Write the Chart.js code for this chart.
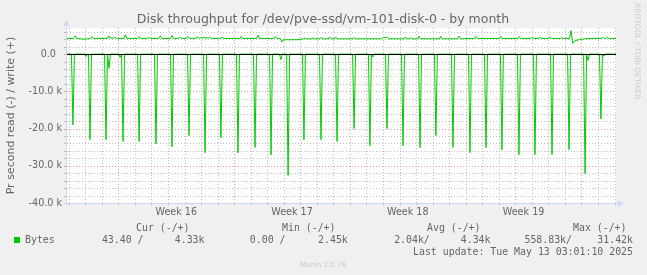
<!DOCTYPE html>
<html><head><meta charset="utf-8">
<script src="https://cdn.jsdelivr.net/npm/chart.js@4.4.1/dist/chart.umd.min.js"></script>
<style>html,body{margin:0;padding:0;background:#F0F0F0;overflow:hidden}canvas{display:block}</style>
</head><body>
<canvas id="c" width="647" height="275" style="width:647px;height:275px"></canvas>
<script>
// ---- texts ----
const chartTitle = 'Disk throughput for /dev/pve-ssd/vm-101-disk-0 - by month';
const yAxisTitle = 'Pr second read (-) / write (+)';
const signature = 'RRDTOOL / TOBI OETIKER';
const footer = 'Munin 2.0.76';

// ---- axes (x in days since start of Week 16, y in k bytes/s) ----
const xRange = [-3.11, 30.09];
const yRange = [-40, 7];
const weekTickDays = [3.5, 10.5, 17.5, 24.5];
const weekTickLabels = ['Week 16', 'Week 17', 'Week 18', 'Week 19'];
const yTickValues = [0, -10, -20, -30, -40];
const yTickLabels = ['0.0  ', '-10.0 k', '-20.0 k', '-30.0 k', '-40.0 k'];

// ---- read (-) spikes ----
const readSpikeDays = [-2.75, -1.96, -1.72, -0.75, -0.57, 0.10, 0.28, 1.25, 2.27, 3.24, 4.27, 5.24, 6.20, 7.23, 8.26, 9.23, 9.83, 10.26, 11.22, 12.25, 13.22, 14.25, 15.21, 15.39, 16.24, 17.21, 18.24, 19.20, 20.23, 21.26, 22.23, 23.19, 24.22, 25.19, 26.22, 27.25, 28.22, 28.40, 29.18, 29.36];
const readSpikeValues = [-19.0, -0.7, -23.0, -23.0, -3.8, -0.9, -23.5, -23.5, -24.1, -24.9, -21.9, -26.5, -22.5, -26.5, -25.1, -27.1, -1.5, -32.6, -23.0, -23.0, -23.5, -20.0, -24.6, -0.8, -20.0, -24.6, -25.1, -21.9, -25.1, -26.5, -25.1, -25.7, -27.0, -27.0, -27.0, -25.7, -32.1, -1.7, -17.4, -0.6];

// ---- write (+) ----
const writeDays = [-3.11, -2.70, -2.61, -2.52, -2.32, -2.02, -1.69, -1.60, -1.51, -0.68, -0.59, -0.50, -0.28, -0.19, -0.10, 0.33, 0.42, 0.51, 1.17, 1.26, 1.35, 1.74, 1.83, 1.92, 2.44, 2.53, 2.62, 3.15, 3.24, 3.33, 3.65, 3.74, 3.83, 4.12, 4.21, 4.30, 4.66, 4.75, 4.84, 5.12, 5.43, 5.52, 5.61, 6.18, 6.27, 6.36, 7.34, 7.43, 7.52, 8.35, 8.44, 8.53, 9.40, 9.49, 9.58, 9.80, 9.89, 9.98, 10.86, 11.18, 11.27, 11.36, 11.68, 11.77, 11.86, 12.18, 12.27, 12.36, 12.69, 12.78, 12.87, 13.05, 13.14, 13.23, 14.16, 14.25, 14.34, 15.93, 16.02, 16.26, 16.35, 17.28, 17.37, 17.46, 17.59, 17.68, 17.77, 18.09, 18.18, 18.27, 19.40, 19.49, 19.58, 20.51, 20.60, 20.69, 21.54, 21.63, 21.72, 23.03, 23.12, 23.21, 24.15, 24.24, 24.33, 24.90, 24.99, 25.08, 25.41, 25.50, 25.59, 26.01, 26.10, 26.19, 26.72, 26.81, 26.90, 27.28, 27.37, 27.47, 27.61, 27.91, 28.21, 28.52, 29.23, 29.32, 29.41, 29.48, 29.57, 29.66, 30.09];
const writeValues = [4.2, 4.2, 4.9, 4.2, 4.1, 4.0, 4.2, 4.7, 4.2, 4.2, 4.9, 4.3, 4.3, 4.5, 4.2, 4.2, 5.2, 4.2, 4.2, 4.7, 4.2, 4.2, 4.5, 4.2, 4.2, 4.9, 4.2, 4.2, 5.0, 4.2, 4.2, 4.6, 4.2, 4.2, 4.7, 4.2, 4.2, 4.6, 4.3, 4.4, 4.3, 4.5, 4.2, 4.2, 4.6, 4.2, 4.2, 4.7, 4.2, 4.2, 5.1, 4.2, 4.2, 4.7, 4.2, 4.2, 3.2, 3.85, 3.85, 4.1, 4.3, 4.1, 4.1, 4.4, 4.1, 4.1, 4.5, 4.1, 4.1, 4.6, 4.1, 4.1, 4.6, 4.1, 4.1, 4.5, 4.1, 4.1, 4.5, 4.5, 4.1, 4.1, 4.6, 4.1, 4.1, 4.4, 4.1, 4.1, 4.8, 4.1, 4.1, 4.8, 4.1, 4.1, 4.8, 4.1, 4.2, 4.7, 4.2, 4.2, 4.7, 4.2, 4.2, 4.7, 4.2, 4.2, 4.5, 4.2, 4.2, 4.5, 4.2, 4.2, 4.5, 4.2, 4.2, 4.4, 4.2, 4.2, 6.3, 2.9, 3.6, 3.9, 4.1, 4.2, 4.2, 4.6, 4.2, 4.2, 4.5, 4.2, 4.2];

// ---- legend ----
const legendHeaders = ['Cur (-/+)', 'Min (-/+)', 'Avg (-/+)', 'Max (-/+)'];
const legendSeries = 'Bytes';
const legendValues = ['43.40 /', '4.33k', '0.00 /', '2.45k', '2.04k/', '4.34k', '558.83k/', '31.42k'];
const lastUpdate = 'Last update: Tue May 13 03:01:10 2025';

// ---- build datasets ----
const SPIKE_HALF = 0.09;
const readPoints = [{x: xRange[0], y: 0}];
readSpikeDays.forEach((d, i) => {
  readPoints.push({x: d - SPIKE_HALF, y: 0}, {x: d, y: readSpikeValues[i]}, {x: d + SPIKE_HALF, y: 0});
});
readPoints.push({x: xRange[1], y: 0});
const writePoints = writeDays.map((d, i) => ({x: d, y: writeValues[i]}));

const GREEN = '#00CC00';
const FONT_COLOR = '#666666';
const AXIS_COLOR = '#CFD6F8';
const MINOR = 'rgba(170,170,170,0.75)';
const MAJOR = 'rgba(230,130,130,0.75)';
const SANS = '"DejaVu Sans", sans-serif';
const MONO = '"DejaVu Sans Mono", monospace';

function seg(c, x1, y1, x2, y2) { c.beginPath(); c.moveTo(x1, y1); c.lineTo(x2, y2); c.stroke(); }

const muninPlugin = {
  id: 'munin',
  beforeDraw(chart) {
    const c = chart.ctx, a = chart.chartArea, xs = chart.scales.x, ys = chart.scales.y;
    c.save();
    c.fillStyle = '#F0F0F0'; c.fillRect(0, 0, chart.width, chart.height);
    c.fillStyle = '#FFFFFF'; c.fillRect(a.left, a.top, a.right - a.left, a.bottom - a.top);
    c.lineWidth = 1;
    for (const pass of [false, true]) {
      for (let d = Math.ceil(xs.min); d <= xs.max; d++) {
        const major = (d % 7 === 0);
        if (major !== pass) continue;
        const px = Math.round(xs.getPixelForValue(d)) + 0.5;
        c.strokeStyle = major ? MAJOR : MINOR;
        c.setLineDash([1, 2]); seg(c, px, a.top, px, a.bottom);
        c.setLineDash([]); seg(c, px, a.bottom, px, a.bottom + 2);
      }
      for (let v = yRange[0]; v <= ys.max; v += 2) {
        const major = (v % 10 === 0);
        if (major !== pass) continue;
        const py = Math.round(ys.getPixelForValue(v)) + 0.5;
        c.strokeStyle = major ? MAJOR : MINOR;
        c.setLineDash([1, 2]); seg(c, a.left, py, a.right, py);
        c.setLineDash([]); seg(c, a.left - 3, py, a.left, py);
      }
    }
    c.restore();
  },
  afterDatasetsDraw(chart) {
    const c = chart.ctx, a = chart.chartArea, ys = chart.scales.y;
    c.save();
    c.lineWidth = 1;
    const y0 = Math.round(ys.getPixelForValue(0)) + 0.5;
    c.strokeStyle = '#000000';
    seg(c, a.left, y0, a.right, y0);
    // axes
    c.strokeStyle = AXIS_COLOR; c.fillStyle = AXIS_COLOR;
    const lx = Math.round(a.left) - 0.5, by = Math.round(a.bottom) + 0.5;
    seg(c, lx, a.bottom + 3, lx, a.top - 3);
    seg(c, a.left - 3, by, a.right + 2, by);
    c.beginPath(); c.moveTo(lx - 3, a.top - 2); c.lineTo(lx + 3, a.top - 2); c.lineTo(lx, a.top - 8); c.closePath(); c.fill();
    c.beginPath(); c.moveTo(a.right + 2, by - 3); c.lineTo(a.right + 2, by + 3); c.lineTo(a.right + 8, by); c.closePath(); c.fill();
    c.restore();
  },
  afterDraw(chart) {
    const c = chart.ctx;
    c.save();
    c.textBaseline = 'alphabetic';
    // title
    c.fillStyle = FONT_COLOR; c.font = '12.5px ' + SANS; c.textAlign = 'center';
    c.fillText(chartTitle, 323, 23);
    // legend
    c.font = '9.9px ' + MONO; c.textAlign = 'right';
    const hdrRight = [189.5, 335.5, 480.5, 626.5];
    legendHeaders.forEach((t, i) => c.fillText(t, hdrRight[i], 231));
    const valRight = [143.5, 204.5, 285.5, 347.8, 429.8, 490.5, 572, 633];
    legendValues.forEach((t, i) => c.fillText(t, valRight[i], 243));
    c.fillText(lastUpdate, 633, 255);
    c.textAlign = 'left';
    c.fillText(legendSeries, 25, 243);
    c.fillStyle = GREEN; c.fillRect(14, 237, 6, 6);
    // footer
    c.fillStyle = '#C8C8C8'; c.font = '7px ' + SANS; c.textAlign = 'center';
    c.fillText(footer, 323, 267);
    // signature
    c.translate(637, 3); c.rotate(Math.PI / 2);
    c.textAlign = 'left'; c.textBaseline = 'middle'; c.font = '7.5px ' + SANS; c.fillStyle = '#CCCCCC';
    c.fillText(signature, 0, 0);
    c.restore();
  }
};

new Chart(document.getElementById('c'), {
  type: 'line',
  data: {
    datasets: [
      {label: 'read', data: readPoints, borderColor: GREEN, borderWidth: 1, pointRadius: 0, fill: false, tension: 0},
      {label: 'write', data: writePoints, borderColor: GREEN, borderWidth: 1, pointRadius: 0, fill: false, tension: 0}
    ]
  },
  options: {
    responsive: false, animation: false, devicePixelRatio: 1,
    layout: {padding: {left: 0, right: 31, top: 28, bottom: 0}},
    plugins: {legend: {display: false}, tooltip: {enabled: false}, title: {display: false}},
    scales: {
      x: {
        type: 'linear', min: xRange[0], max: xRange[1], position: 'bottom',
        grid: {display: false, drawTicks: false}, border: {display: false},
        afterFit(s) { s.height = 72; },
        afterBuildTicks(s) { s.ticks = weekTickDays.map(v => ({value: v})); },
        ticks: {autoSkip: false, maxRotation: 0, padding: 4, color: FONT_COLOR, font: {family: SANS, size: 9.6},
          callback: (v, i) => weekTickLabels[i]}
      },
      y: {
        type: 'linear', min: yRange[0], max: yRange[1],
        grid: {display: false, drawTicks: false}, border: {display: false},
        afterFit(s) { s.width = 67; },
        afterBuildTicks(s) { s.ticks = yTickValues.map(v => ({value: v})); },
        ticks: {padding: 5, color: FONT_COLOR, font: {family: SANS, size: 9.6},
          callback: (v, i) => yTickLabels[i]},
        title: {display: true, text: yAxisTitle, color: FONT_COLOR, font: {family: SANS, size: 11}, padding: {top: 4.5, bottom: 0}}
      }
    }
  },
  plugins: [muninPlugin]
});
</script>
</body></html>
